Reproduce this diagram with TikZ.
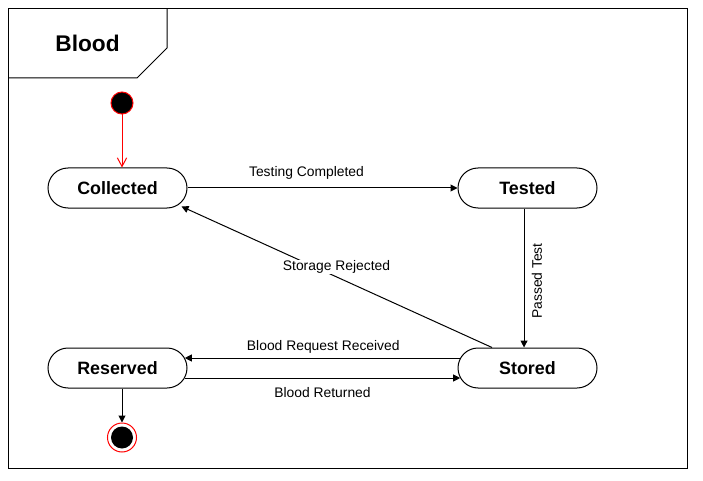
\documentclass[tikz,border=0pt]{standalone}
\usepackage{fontspec}
\setmainfont{Liberation Sans}
\usetikzlibrary{arrows.meta,calc}
\begin{document}
\begin{tikzpicture}[x=0.75pt,y=-0.75pt,line width=0.75pt,
  state/.style={draw,rounded corners=15pt,minimum width=104.25pt,minimum height=30pt,inner sep=0pt,
    font=\fontsize{13.4}{16}\selectfont\bfseries},
  lbl/.style={font=\fontsize{10.4}{12}\selectfont,inner sep=1pt},
  arr/.style={-{Triangle[length=5.25pt,width=5.25pt]}},
  initdot/.style={circle,draw=red,fill=black,minimum size=16.5pt,inner sep=0pt},
  finaldot/.style={circle,draw=red,fill=white,minimum size=21.75pt,inner sep=0pt,
    path picture={\fill[black] (path picture bounding box.center) circle (8.25pt);}}]
\useasboundingbox (0,0) rectangle (703,481);
% frame
\draw (8,9) rectangle (687,468);
\draw (8,78) -- (137,78) -- (167,48) -- (167,9);
\node[font=\fontsize{17}{20}\selectfont\bfseries] (title) at (87.5,43) {Blood};
% states
\node[initdot] (ini) at (122,103) {};
\node[state] (col) at (117.5,188) {Collected};
\node[state] (tes) at (527.5,188) {Tested};
\node[state] (sto) at (527.5,368) {Stored};
\node[state] (res) at (117.5,368) {Reserved};
\node[finaldot] (fin) at (122,437.5) {};
% connectors
\draw[red,-{Straight Barb[length=6.5pt,width=7pt]}] (ini) -- (ini |- col.north);
\draw[arr] (col.east) -- (tes.west);
\node[lbl] (lt) at (306.5,173) {Testing Completed};
\draw[arr] ([xshift=-2.6pt]tes.south) -- ([xshift=-2.6pt]sto.north);
\node[lbl,rotate=90] (lp) at (537,281) {Passed Test};
\coordinate (srA) at ($(sto.north)+(-35.5,0)$);
\coordinate (srB) at ($(col.south east)+(-6,-2)$);
\draw[arr] (srA) -- (srB);
\node[lbl,fill=white,inner sep=0.5pt] (ls) at (336.5,267) {Storage Rejected};
\draw[arr] ($(sto.west)+(2.7,-10)$) -- ($(res.east)+(-2.7,-10)$);
\node[lbl] (lr) at (323.3,347) {Blood Request Received};
\draw[arr] ($(res.east)+(-2.7,10)$) -- ($(sto.west)+(2.7,10)$);
\node[lbl] (lb) at (322.5,393) {Blood Returned};
\draw[arr] (res.south -| fin) -- (fin.north);
\end{tikzpicture}
\end{document}
